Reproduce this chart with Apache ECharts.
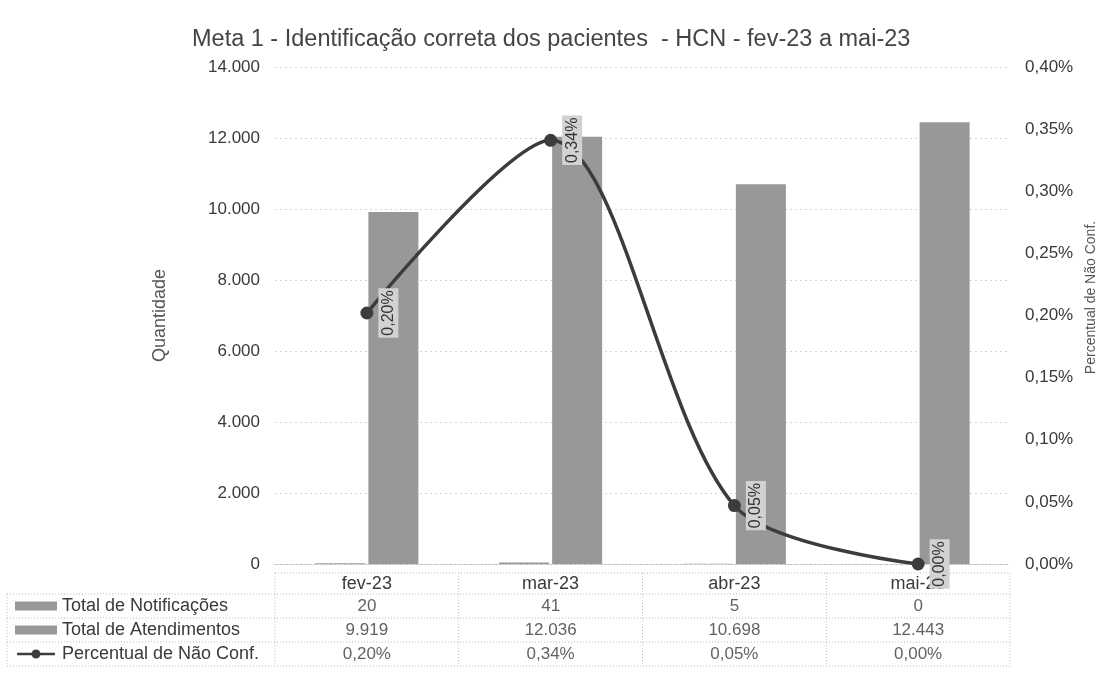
<!DOCTYPE html>
<html>
<head>
<meta charset="utf-8">
<script src="https://cdn.jsdelivr.net/npm/echarts@6/dist/echarts.min.js"></script>
<style>
html,body{margin:0;padding:0;background:#fff;}
#c{width:1112px;height:674px;}
</style>
</head>
<body>
<div id="c"></div>
<script>
const categories = ['fev-23', 'mar-23', 'abr-23', 'mai-23'];
const notificacoes = [20, 41, 5, 0];
const atendimentos = [9919, 12036, 10698, 12443];
const percentual = [0.00202, 0.00341, 0.00047, 0.0];
const seriesNames = ['Total de Notificações', 'Total de Atendimentos', 'Percentual de Não Conf.'];
const chartTitle = 'Meta 1 - Identificação correta dos pacientes  - HCN - fev-23 a mai-23';

const FONT = "'Liberation Sans', Arial, sans-serif";
const TXT = '#3a3a3a';
const BAR = '#989898';
const LINE = '#3c3c3c';

// layout constants
const G = { left: 275, right: 1010, top: 67, bottom: 564 };
const T = { top: 573, head: 594, rowH: 24, left: 7 };

function thou(v) { return String(v).replace(/\B(?=(\d{3})+(?!\d))/g, '.'); }
function pct(v) { return (v * 100).toFixed(2).replace('.', ',') + '%'; }

const chart = echarts.init(document.getElementById('c'), null, { renderer: 'canvas' });

// table cells
const cellData = [];
categories.forEach((c, i) => {
  cellData.push([i, 0, String(notificacoes[i])]);
  cellData.push([i, 1, thou(atendimentos[i])]);
  cellData.push([i, 2, pct(percentual[i])]);
});

// table border lines (decoration)
const dash = { stroke: '#b8b8b8', lineWidth: 1, lineDash: [1, 2] };
const graphics = [];
const catW = (G.right - G.left) / categories.length;
const tBottom = T.head + 3 * T.rowH;
graphics.push({ type: 'line', shape: { x1: G.left, y1: T.top, x2: G.right, y2: T.top }, style: dash, silent: true });
for (let r = 0; r <= 3; r++) {
  const y = T.head + r * T.rowH;
  graphics.push({ type: 'line', shape: { x1: T.left, y1: y, x2: G.right, y2: y }, style: dash, silent: true });
}
graphics.push({ type: 'line', shape: { x1: T.left, y1: T.head, x2: T.left, y2: tBottom }, style: dash, silent: true });
for (let i = 0; i <= categories.length; i++) {
  const x = G.left + i * catW;
  graphics.push({ type: 'line', shape: { x1: x, y1: T.top, x2: x, y2: tBottom }, style: dash, silent: true });
}

// legend icon for the line series: thick line with a circle marker
const lineIcon = 'path://M0,3 L42,3 L42,6 L0,6 Z M16,4.5 A5,5 0 1,1 26,4.5 A5,5 0 1,1 16,4.5 Z';

const option = {
  backgroundColor: '#ffffff',
  animation: false,
  textStyle: { fontFamily: FONT },
  title: {
    text: chartTitle,
    left: 187,
    top: 23,
    textStyle: { fontFamily: FONT, fontSize: 23.5, fontWeight: 'normal', color: '#444' }
  },
  legend: {
    data: [
      { name: seriesNames[0], icon: 'rect' },
      { name: seriesNames[1], icon: 'rect' },
      { name: seriesNames[2], icon: lineIcon }
    ],
    orient: 'vertical',
    left: 15,
    top: 594,
    padding: 0,
    itemWidth: 42,
    itemHeight: 9,
    itemGap: 0,
    textStyle: { fontFamily: FONT, fontSize: 18, color: TXT, lineHeight: 24 },
    selectedMode: false
  },
  grid: [
    { left: G.left, right: 1112 - G.right, top: G.top, bottom: 674 - G.bottom, containLabel: false },
    { left: G.left, right: 1112 - G.right, top: T.head, height: 3 * T.rowH, containLabel: false }
  ],
  xAxis: [
    {
      type: 'category', gridIndex: 0, data: categories,
      axisLine: { show: true, lineStyle: { color: '#b8b8b8', type: [1, 2] } },
      axisTick: { show: false },
      axisLabel: { fontFamily: FONT, fontSize: 18, color: TXT, margin: 11 }
    },
    {
      type: 'category', gridIndex: 1, data: categories,
      axisLine: { show: false }, axisTick: { show: false }, axisLabel: { show: false }, splitLine: { show: false }
    }
  ],
  yAxis: [
    {
      type: 'value', gridIndex: 0, min: 0, max: 14000, interval: 2000,
      name: 'Quantidade', nameLocation: 'middle', nameGap: 106, nameRotate: 90,
      nameTextStyle: { fontFamily: FONT, fontSize: 18, color: '#555' },
      axisLine: { show: false }, axisTick: { show: false },
      axisLabel: { fontFamily: FONT, fontSize: 17, color: TXT, margin: 15, formatter: v => thou(v) },
      splitLine: { show: true, lineStyle: { color: '#d6d6d6', type: [2, 3] } }
    },
    {
      type: 'value', gridIndex: 0, min: 0, max: 0.004, interval: 0.0005, position: 'right',
      name: 'Percentual de Não Conf.', nameLocation: 'middle', nameGap: 72, nameRotate: 90,
      nameTextStyle: { fontFamily: FONT, fontSize: 14, color: '#555', padding: [0, 0, 0, 36] },
      axisLine: { show: false }, axisTick: { show: false },
      axisLabel: { fontFamily: FONT, fontSize: 17, color: TXT, margin: 15, formatter: v => pct(v) },
      splitLine: { show: false }
    },
    {
      type: 'category', gridIndex: 1, data: [0, 1, 2], inverse: true,
      axisLine: { show: false }, axisTick: { show: false }, axisLabel: { show: false }, splitLine: { show: false }
    }
  ],
  series: [
    {
      name: seriesNames[0], type: 'bar', xAxisIndex: 0, yAxisIndex: 0,
      data: notificacoes, barWidth: 50, barGap: '6%',
      itemStyle: { color: BAR }
    },
    {
      name: seriesNames[1], type: 'bar', xAxisIndex: 0, yAxisIndex: 0,
      data: atendimentos, barWidth: 50, barGap: '6%',
      itemStyle: { color: BAR }
    },
    {
      name: seriesNames[2], type: 'line', xAxisIndex: 0, yAxisIndex: 1,
      data: percentual, smooth: 0.3,
      symbol: 'circle', symbolSize: 13,
      lineStyle: { color: LINE, width: 3.5 },
      itemStyle: { color: LINE },
      z: 5,
      label: {
        show: true, position: 'right', distance: 8, rotate: 90,
        align: 'center', verticalAlign: 'middle',
        offset: [0, 7],
        fontFamily: FONT, fontSize: 16, color: '#333',
        backgroundColor: '#d2d2d2', padding: [2, 2],
        formatter: p => pct(p.value)
      }
    },
    {
      name: 'tabela', type: 'scatter', xAxisIndex: 1, yAxisIndex: 2,
      data: cellData, symbolSize: 0, silent: true,
      label: {
        show: true, position: 'inside', fontFamily: FONT, fontSize: 17, color: TXT,
        formatter: p => p.value[2]
      }
    }
  ],
  graphic: graphics
};
chart.setOption(option);
</script>
</body>
</html>
